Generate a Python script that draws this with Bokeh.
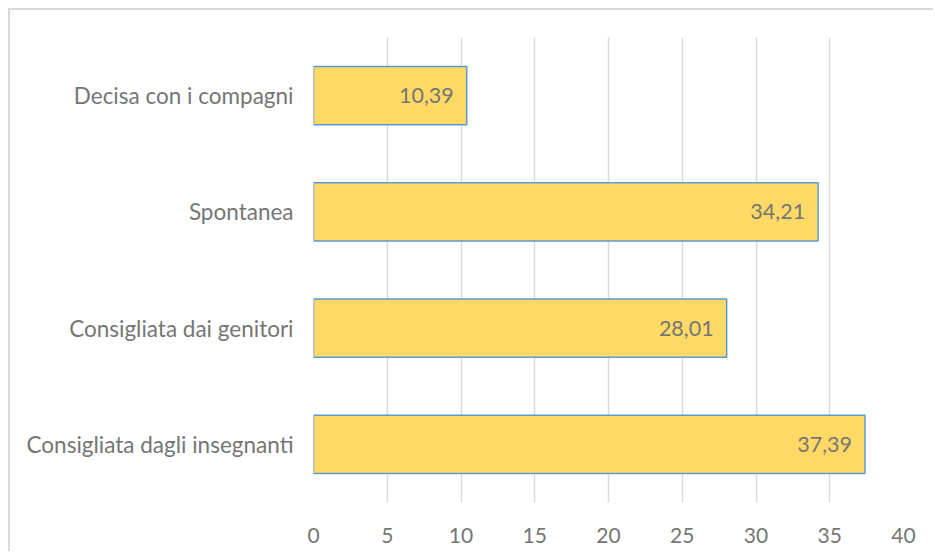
from bokeh.plotting import figure
from bokeh.models import ColumnDataSource, FixedTicker, Range1d, FactorRange
from bokeh.core.properties import value
from bokeh.embed import file_html
from bokeh.resources import INLINE

categories = ["Consigliata dagli insegnanti", "Consigliata dai genitori", "Spontanea", "Decisa con i compagni"]
values = [37.39, 28.01, 34.21, 10.39]
labels = ["37,39", "28,01", "34,21", "10,39"]
x_ticks = [0, 5, 10, 15, 20, 25, 30, 35, 40]

src = ColumnDataSource(dict(cat=categories, val=values, lab=labels))

p = figure(width=925, height=543, output_backend="svg", toolbar_location=None,
           y_range=FactorRange(*categories), x_range=Range1d(0, 40),
           min_border_left=303, min_border_right=32, min_border_top=27, min_border_bottom=51)
p.styles = {"margin-left": "8px", "margin-top": "8px",
            "border-top": "2px solid #d9d9d9", "border-left": "2px solid #d9d9d9"}
p.outline_line_color = None
p.background_fill_color = "white"
p.border_fill_color = "white"

p.hbar(y="cat", right="val", left=0, height=0.5, source=src,
       fill_color="#FFD966", line_color="#5B9BD5", line_width=1.5)
p.text(x="val", y="cat", text="lab", source=src, x_offset=-13,
       text_align="right", text_baseline="middle", text_color="#757575",
       text_font=value("Lato"), text_font_size="21.5px")

p.xaxis.ticker = FixedTicker(ticks=x_ticks)
for ax in (p.xaxis[0], p.yaxis[0]):
    ax.axis_line_color = None
    ax.major_tick_line_color = None
    ax.minor_tick_line_color = None
    ax.major_label_text_font = "Lato"
    ax.major_label_text_color = "#757575"
p.xaxis.major_label_text_font_size = "21px"
p.yaxis.major_label_text_font_size = "22.5px"
p.xaxis.major_label_standoff = 19
p.yaxis.major_label_standoff = 14

p.xgrid.grid_line_color = "#d9d9d9"
p.xgrid.grid_line_width = 1.5
p.ygrid.grid_line_color = None

open("out.html", "w").write(file_html(p, INLINE))
